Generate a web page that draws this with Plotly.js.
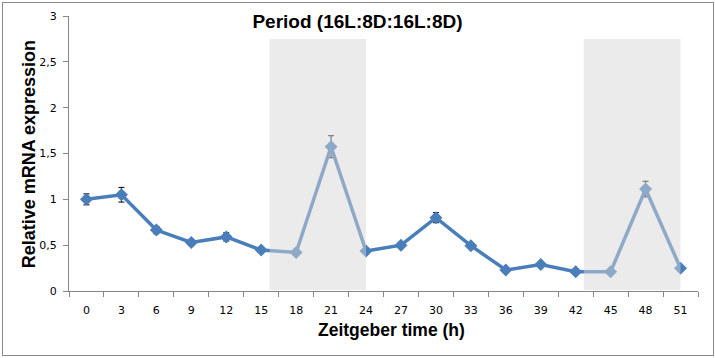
<!DOCTYPE html>
<html>
<head>
<meta charset="utf-8">
<script src="https://cdn.plot.ly/plotly-3.0.1.min.js"></script>
<style>
html,body{margin:0;padding:0;background:#fff;}
#wrap{position:relative;width:715px;height:358px;overflow:hidden;}
#chart{position:absolute;left:0;top:0;width:715px;height:358px;}
#frame{position:absolute;left:2px;top:2px;width:710px;height:352px;border:1px solid #8a8a8a;pointer-events:none;}
</style>
</head>
<body>
<div id="wrap"><div id="chart"></div><div id="frame"></div></div>
<script>
const categories = ["0","3","6","9","12","15","18","21","24","27","30","33","36","39","42","45","48","51"];
const expression = [1.00,1.05,0.665,0.53,0.59,0.447,0.42,1.574,0.436,0.50,0.80,0.494,0.229,0.29,0.21,0.21,1.112,0.247];
const errors = [0.06,0.08,0.04,0.03,0.045,0.02,0.02,0.12,0.03,0.03,0.055,0.025,0.02,0.02,0.02,0.01,0.085,0.01];
const darkPeriods = [[5.24, 8.0], [14.23, 17.0]];
const shadeTop = 2.75;
const chartTitle = 'Period (16L:8D:16L:8D)';
const xTitle = 'Zeitgeber time (h)';
const yTitle = 'Relative mRNA expression';

const trace = {
  x: categories,
  y: expression,
  type: 'scatter',
  mode: 'lines+markers',
  line: {color: '#4A7EBB', width: 3.5},
  marker: {symbol: 'diamond', size: 10, color: '#4A7EBB'},
  error_y: {type: 'data', array: errors, visible: true, color: '#000', thickness: 1, width: 3},
  hoverinfo: 'skip'
};

const shapes = darkPeriods.map(p => ({
  type: 'rect', xref: 'x', yref: 'y', x0: p[0], x1: p[1], y0: 0.01, y1: shadeTop,
  fillcolor: 'rgba(214,214,214,0.49)', line: {width: 0}, layer: 'above'
}));

const titleFont = {family: '"Liberation Sans", Arial, sans-serif', color: '#000'};

const layout = {
  width: 715, height: 358,
  margin: {l: 69, r: 17, t: 16, b: 67},
  paper_bgcolor: '#fff', plot_bgcolor: '#fff',
  separators: ',.',
  showlegend: false,
  font: {family: '"DejaVu Sans", sans-serif', size: 11, color: '#000'},
  title: {text: '<b>' + chartTitle + '</b>', x: 0.5, xanchor: 'center', y: 0.94, yanchor: 'middle',
          font: Object.assign({size: 19}, titleFont)},
  xaxis: {
    type: 'category', range: [-0.5, 17.5], tickson: 'boundaries',
    ticks: 'outside', ticklen: 5, tickcolor: '#868686', ticklabelstandoff: 9,
    showline: true, linecolor: '#868686', linewidth: 1,
    showgrid: false, zeroline: false,
    tickfont: {family: '"DejaVu Sans", sans-serif', size: 11, color: '#000'}
  },
  yaxis: {
    range: [0, 3], dtick: 0.5, tick0: 0,
    ticks: 'outside', ticklen: 5, tickcolor: '#868686', ticklabelstandoff: 4,
    showline: true, linecolor: '#868686', linewidth: 1,
    showgrid: false, zeroline: false,
    tickfont: {family: '"DejaVu Sans", sans-serif', size: 11, color: '#000'}
  },
  annotations: [
    {text: '<b>' + xTitle + '</b>', xref: 'paper', yref: 'paper', x: 0.5135, y: -0.142,
     xanchor: 'center', yanchor: 'middle', showarrow: false, font: Object.assign({size: 17.5}, titleFont)},
    {text: '<b>' + yTitle + '</b>', xref: 'paper', yref: 'paper', x: -0.0636, y: 0.497, textangle: -90,
     xanchor: 'center', yanchor: 'middle', showarrow: false, font: Object.assign({size: 18}, titleFont)}
  ],
  shapes: shapes
};

Plotly.newPlot('chart', [trace], layout, {displayModeBar: false, staticPlot: true});
</script>
</body>
</html>
